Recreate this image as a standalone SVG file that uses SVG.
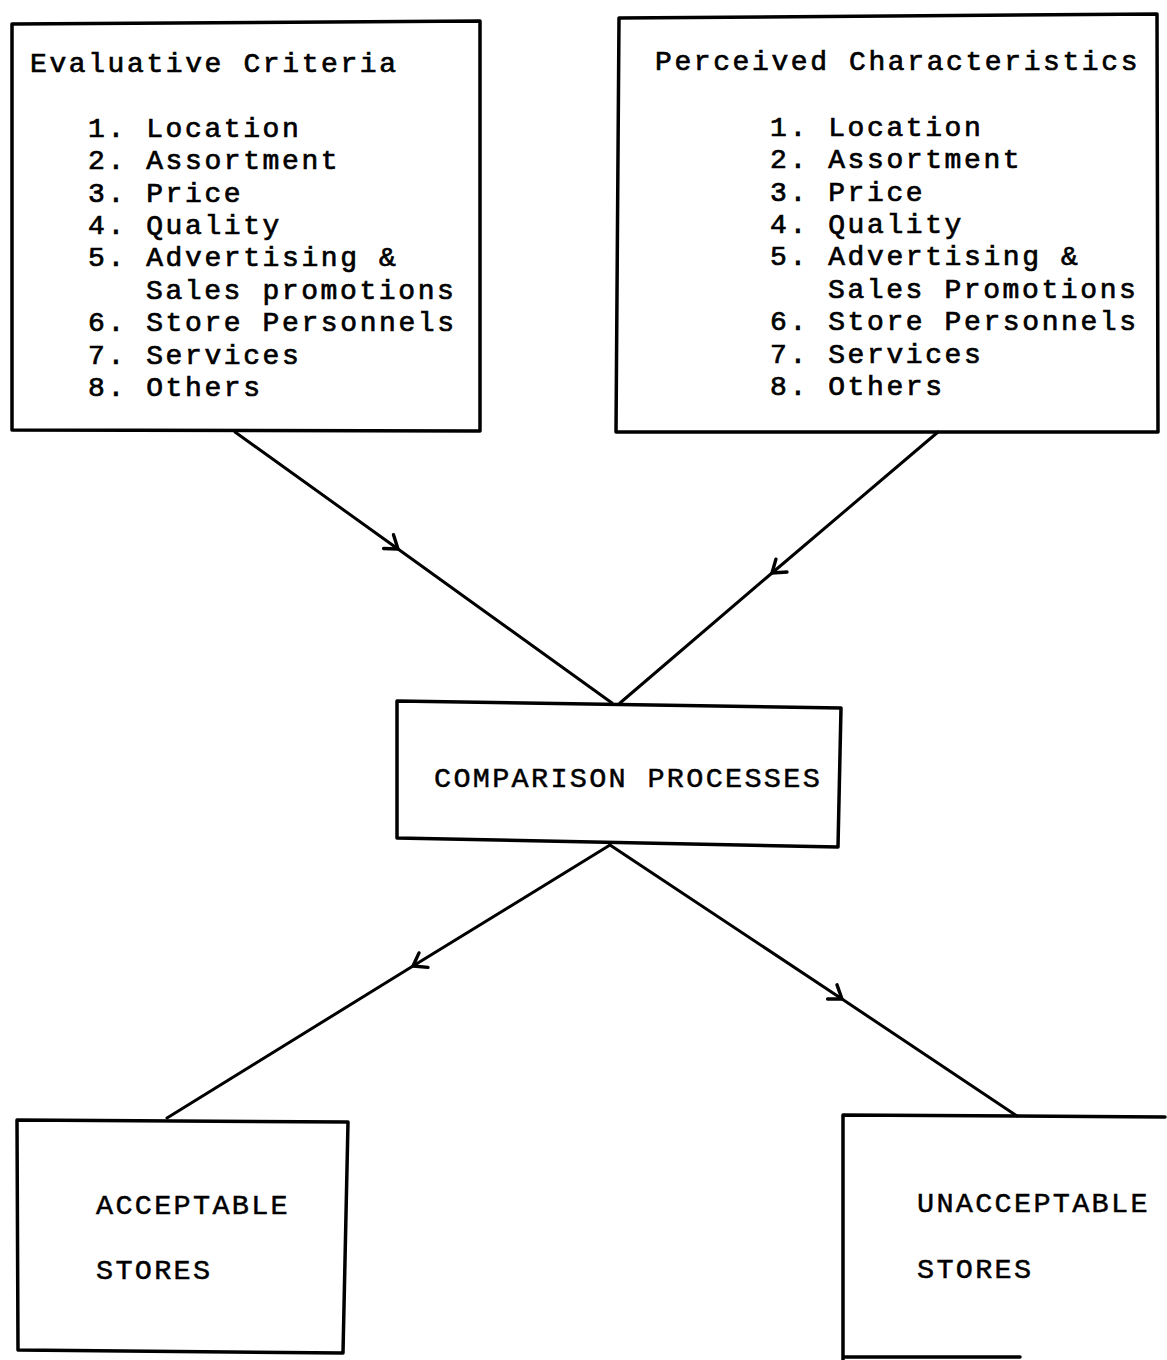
<svg xmlns="http://www.w3.org/2000/svg" width="1167" height="1360" viewBox="0 0 1167 1360">
  <defs>
    <style>
      .box { fill: none; stroke: #000; stroke-width: 3.5; stroke-linejoin: round; stroke-linecap: round; }
      /* typewriter look: monospace with a 19.4px character pitch */
      .txt { font-family: "Liberation Mono", "Courier New", monospace; font-size: 28px; letter-spacing: 2.6px; fill: #000; stroke: #000; stroke-width: 0.7; }
      .cap { font-size: 28.5px; letter-spacing: 2.3px; stroke-width: 0.5; }
      .link { fill: none; stroke: #000; stroke-width: 3; stroke-linecap: round; marker-mid: url(#chev); }
    </style>
    <marker id="chev" viewBox="-16 -12 20 24" markerWidth="20" markerHeight="24" refX="0" refY="0" orient="auto" markerUnits="userSpaceOnUse">
      <path d="M-12,-9 L0,0 L-12,8" fill="none" stroke="#000" stroke-width="3.4" stroke-linecap="round" stroke-linejoin="round"/>
    </marker>
  </defs>
  <rect width="1167" height="1360" fill="#fff"/>

  <!-- connectors -->
  <g id="connectors">
    <polyline class="link" points="235,432 398,549 612,703"/>
    <polyline class="link" points="938,432 772,573 620,703"/>
    <polyline class="link" points="610,845 413,966 167,1118"/>
    <polyline class="link" points="610,845 842,999 1017,1116"/>
  </g>

  <!-- evaluative criteria -->
  <g id="evaluative-criteria">
    <polygon class="box" points="12,24 480,21 480,431 12,430"/>
    <text class="txt" x="30" y="72">Evaluative Criteria</text>
    <text class="txt" x="88" y="137">1. Location</text>
    <text class="txt" x="88" y="169">2. Assortment</text>
    <text class="txt" x="88" y="202">3. Price</text>
    <text class="txt" x="88" y="234">4. Quality</text>
    <text class="txt" x="88" y="266">5. Advertising &amp;</text>
    <text class="txt" x="146" y="299">Sales promotions</text>
    <text class="txt" x="88" y="331">6. Store Personnels</text>
    <text class="txt" x="88" y="364">7. Services</text>
    <text class="txt" x="88" y="396">8. Others</text>
  </g>

  <!-- perceived characteristics -->
  <g id="perceived-characteristics">
    <polygon class="box" points="619,18 1157,14 1158,432 616,432"/>
    <text class="txt" x="655" y="70">Perceived Characteristics</text>
    <text class="txt" x="770" y="136">1. Location</text>
    <text class="txt" x="770" y="168">2. Assortment</text>
    <text class="txt" x="770" y="201">3. Price</text>
    <text class="txt" x="770" y="233">4. Quality</text>
    <text class="txt" x="770" y="265">5. Advertising &amp;</text>
    <text class="txt" x="828" y="298">Sales Promotions</text>
    <text class="txt" x="770" y="330">6. Store Personnels</text>
    <text class="txt" x="770" y="363">7. Services</text>
    <text class="txt" x="770" y="395">8. Others</text>
  </g>

  <!-- comparison processes -->
  <g id="comparison-processes">
    <polygon class="box" points="397,701 841,708 838,847 397,838"/>
    <text class="txt cap" x="434" y="787">COMPARISON PROCESSES</text>
  </g>

  <!-- acceptable stores -->
  <g id="acceptable-stores">
    <polygon class="box" points="17,1120 348,1122 343,1353 18,1350"/>
    <text class="txt cap" x="96" y="1214">ACCEPTABLE</text>
    <text class="txt cap" x="96" y="1279">STORES</text>
  </g>

  <!-- unacceptable stores (right side runs off the sheet) -->
  <g id="unacceptable-stores">
    <polyline class="box" points="1165,1117 843,1115 843,1360"/>
    <line class="box" x1="845" y1="1357" x2="1020" y2="1357"/>
    <text class="txt cap" x="917" y="1212">UNACCEPTABLE</text>
    <text class="txt cap" x="917" y="1278">STORES</text>
  </g>
</svg>
